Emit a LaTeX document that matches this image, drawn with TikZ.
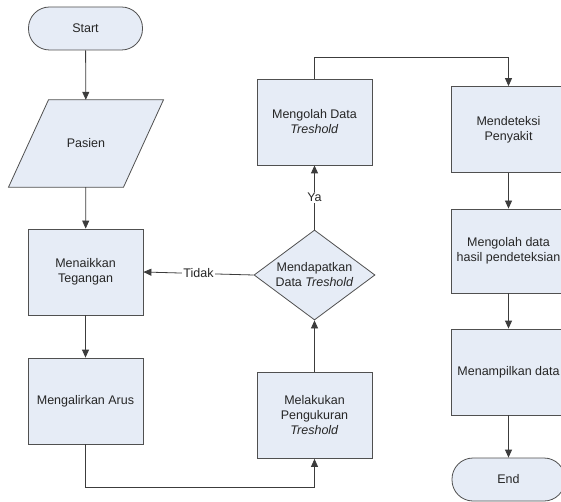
\documentclass[tikz,border=0pt]{standalone}
\usepackage{fontspec}
\setmainfont{Liberation Sans}
\usetikzlibrary{arrows.meta,shapes.geometric,backgrounds}
\definecolor{boxfill}{RGB}{230,236,246}
\definecolor{boxline}{RGB}{80,80,80}
\definecolor{conline}{RGB}{60,60,60}
\begin{document}
\begin{tikzpicture}[x=1pt,y=-1pt,
  every node/.style={font=\fontsize{12.5}{15}\selectfont, text=black!85},
  procbox/.style={rectangle, draw=boxline, fill=boxfill, line width=0.8pt,
    minimum width=115pt, minimum height=86pt, inner sep=0pt, align=center},
  termbox/.style={rectangle, rounded corners=21pt, draw=boxline, fill=boxfill, line width=0.8pt,
    minimum width=114pt, minimum height=43pt, inner sep=0pt, align=center},
  decbox/.style={diamond, aspect=1.344, draw=boxline, fill=boxfill, line width=0.8pt,
    minimum width=121pt, minimum height=90pt, inner sep=0pt, align=center},
  ioshape/.style={draw=boxline, fill=boxfill, line width=0.8pt},
  flow/.style={draw=conline, line width=0.8pt, -{Triangle[length=8pt,width=7pt]}},
  lbl/.style={fill=white, inner sep=1pt}
]
\useasboundingbox (0,0) rectangle (561,502);

\node[termbox] (start) at (85.5,28.5) {Start};
\node[inner sep=0pt, minimum width=115pt, minimum height=87pt, align=center] (pasien) at (86,143.5) {Pasien};
\begin{scope}[on background layer]
  \fill[white] (0,0) rectangle (561,502);
  \path[ioshape] ([xshift=-37.5pt]pasien.north) -- ([xshift=77.5pt]pasien.north)
     -- ([xshift=37.5pt]pasien.south) -- ([xshift=-77.5pt]pasien.south) -- cycle;
\end{scope}
\node[procbox] (naik) at (85.5,272) {Menaikkan\\Tegangan};
\node[procbox] (alir) at (85.5,401) {Mengalirkan Arus};
\node[procbox] (ukur) at (314.5,415.5) {Melakukan\\Pengukuran\\\textit{Treshold}};
\node[decbox] (dapat) at (314.5,275) {Mendapatkan\\Data \textit{Treshold}};
\node[procbox] (olah) at (314.5,122) {Mengolah Data\\\textit{Treshold}};
\node[procbox] (deteksi) at (508.5,129.5) {Mendeteksi\\Penyakit};
\node[procbox, minimum height=84pt] (hasil) at (508.5,251) {Mengolah data\\hasil pendeteksian};
\node[procbox] (tampil) at (508.5,372) {Menampilkan data};
\node[termbox, minimum width=113pt] (end) at (508.5,479.5) {End};

\coordinate (bot) at (85.5,487);
\coordinate (top) at (314.5,57);

\draw[flow] (start) -- (pasien);
\draw[flow] (pasien) -- (naik);
\draw[flow] (naik) -- (alir);
\draw[flow] (alir.south) -- (alir.south |- bot) -| (ukur.south);
\draw[flow] (ukur) -- (dapat);
\draw[flow] (dapat.north) -- node[lbl] (ya) {Ya} (olah.south);
\draw[flow] (dapat.west) -- node[lbl] (tidak) {Tidak} (naik.east);
\draw[flow] (olah.north) -- (olah.north |- top) -| (deteksi.north);
\draw[flow] (deteksi) -- (hasil);
\draw[flow] (hasil) -- (tampil);
\draw[flow] (tampil) -- (end);
\end{tikzpicture}
\end{document}
